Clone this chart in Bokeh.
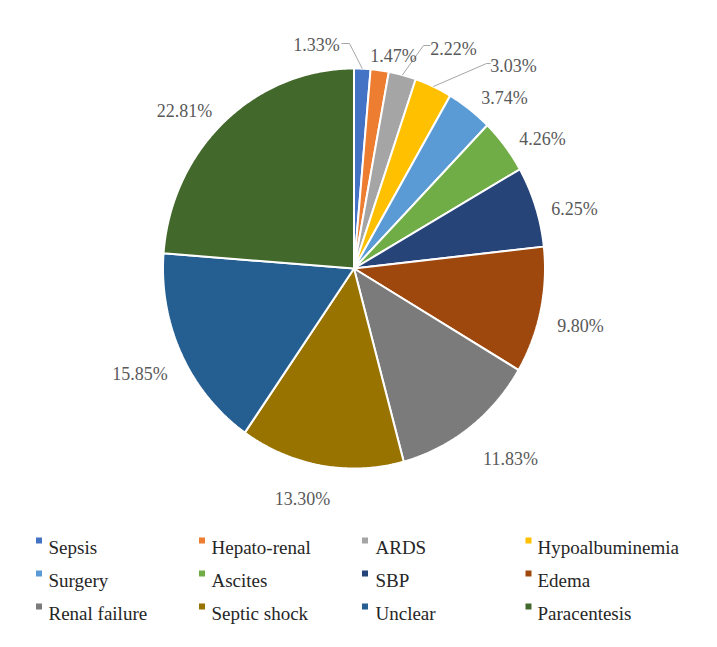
import numpy as np
from bokeh.plotting import figure
from bokeh.models import Range1d, ColumnDataSource
from bokeh.embed import file_html
from bokeh.resources import INLINE
from bokeh.core.properties import value

# ---------------- data ----------------
categories = ["Sepsis", "Hepato-renal", "ARDS", "Hypoalbuminemia", "Surgery", "Ascites",
              "SBP", "Edema", "Renal failure", "Septic shock", "Unclear", "Paracentesis"]
percentages = [1.33, 1.47, 2.22, 3.03, 3.74, 4.26, 6.25, 9.80, 11.83, 13.30, 15.85, 22.81]
label_texts = ["%.2f%%" % v for v in percentages]
colors = ["#4472C4", "#ED7D31", "#A5A5A5", "#FFC000", "#5B9BD5", "#70AD47",
          "#264478", "#9E480E", "#7B7B7B", "#997300", "#255E91", "#43682B"]

# ---------------- layout (pixels) ----------------
CX, CY, RX, RY = 353.5, 268.0, 191.0, 200.0
label_pos = [(316, 44), (393, 55), (453, 48), (513, 65), (504, 97), (542, 138),
             (574, 208), (580, 325), (510, 458), (302, 498), (139.5, 373), (184, 110)]
leader_elbows = {0: [(341, 43), (349, 43)], 2: [(430, 45), (423, 45)], 3: [(490, 63), (486, 63)]}
legend_marker_x = [38.5, 201.5, 364.5, 528]
legend_text_x = [48, 211, 375, 537]
legend_baseline = [547, 580, 613]

W, H = 701, 631
p = figure(width=W, height=H, x_range=Range1d(0, W), y_range=Range1d(H, 0),
           output_backend="svg", toolbar_location=None, min_border=0,
           x_axis_location=None, y_axis_location=None)
p.grid.visible = False
p.outline_line_color = None
p.background_fill_color = "white"

vals = np.array(percentages)
frac = vals / vals.sum()
cum = np.concatenate([[0.0], np.cumsum(frac)]) * 2 * np.pi
xs, ys, mids = [], [], []
for a0, a1 in zip(cum[:-1], cum[1:]):
    n = max(int(np.degrees(a1 - a0) * 2), 4) + 1
    t = np.linspace(a0, a1, n)
    xs.append([CX] + list(CX + RX * np.sin(t)))
    ys.append([CY] + list(CY - RY * np.cos(t)))
    mids.append((a0 + a1) / 2)

src = ColumnDataSource(dict(xs=xs, ys=ys, color=colors, cat=categories))
p.patches("xs", "ys", source=src, fill_color="color", line_color="white", line_width=2)

lx, ly = [], []
for i, elbow in leader_elbows.items():
    m = mids[i]
    ex, ey = CX + RX * np.sin(m), CY - RY * np.cos(m)
    lx.append([pt[0] for pt in elbow] + [ex])
    ly.append([pt[1] for pt in elbow] + [ey])
p.multi_line(lx, ly, line_color="#A6A6A6", line_width=1)

lab_src = ColumnDataSource(dict(x=[q[0] for q in label_pos], y=[q[1] for q in label_pos], t=label_texts))
p.text("x", "y", text="t", source=lab_src, text_font=value("Liberation Serif"),
       text_font_size="18px", text_color="#595959", text_align="center",
       text_baseline="alphabetic")

mx, my, tx, ty = [], [], [], []
for i, c in enumerate(categories):
    r, col = divmod(i, 4)
    mx.append(legend_marker_x[col]); my.append(legend_baseline[r] - 7)
    tx.append(legend_text_x[col]); ty.append(legend_baseline[r])
p.scatter(mx, my, marker="square", size=6, fill_color=colors, line_color=None)
leg_src = ColumnDataSource(dict(x=tx, y=ty, t=categories))
p.text("x", "y", text="t", source=leg_src, text_font=value("Liberation Serif"),
       text_font_size="19px", text_color="#262626", text_align="left",
       text_baseline="alphabetic")

open("out.html", "w").write(file_html(p, INLINE))
